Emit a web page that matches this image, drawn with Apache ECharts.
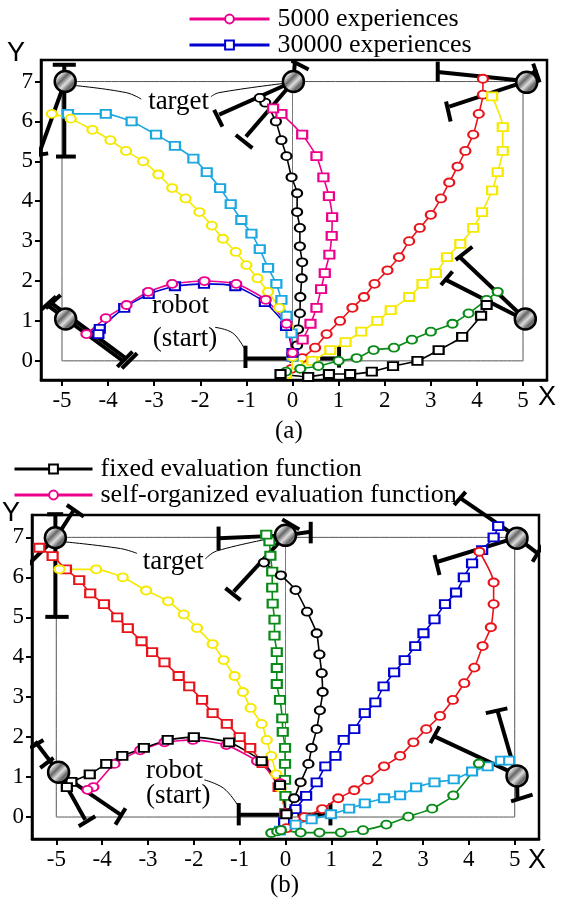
<!DOCTYPE html>
<html>
<head>
<meta charset="utf-8">
<script src="https://cdn.jsdelivr.net/npm/echarts@6/dist/echarts.min.js"></script>
<style>
  html, body { margin: 0; padding: 0; background: #fff; }
  #chart { width: 567px; height: 900px; }
</style>
</head>
<body>
<div id="chart"></div>
<script>
// tick values shared by both panels
const xTicks = [-5, -4, -3, -2, -1, 0, 1, 2, 3, 4, 5];
const yTicks = [0, 1, 2, 3, 4, 5, 6, 7];

// ---- panel (a) trajectories ----
const aPinkCirc = [[0.0,0.2],[-0.13,0.93],[-0.58,1.53],[-1.22,1.93],[-1.91,2.0],[-2.61,1.93],[-3.13,1.73],[-3.6,1.4],[-4.05,1.07],[-4.47,0.67]];
const aBlueSq = [[0.0,0.2],[-0.14,0.87],[-0.6,1.47],[-1.24,1.87],[-1.92,1.93],[-2.55,1.87],[-3.12,1.67],[-3.65,1.33],[-4.18,0.8],[-4.21,0.67]];
const aBlackCirc = [[0.02,0.05],[0.10,0.39],[0.12,0.79],[0.16,1.19],[0.17,1.6],[0.20,2.07],[0.21,2.47],[0.16,2.87],[0.16,3.33],[0.10,3.73],[0.10,4.2],[-0.02,4.6],[-0.13,5.13],[-0.24,5.53],[-0.36,6.0],[-0.59,6.47],[-0.71,6.59]];
const aPinkSq = [[0.0,0.1],[0.22,0.53],[0.39,0.93],[0.52,1.33],[0.62,1.8],[0.70,2.2],[0.80,2.66],[0.85,3.13],[0.86,3.6],[0.79,4.13],[0.67,4.6],[0.52,5.13],[0.21,5.67],[-0.24,6.19],[-0.42,6.33]];
const aRedCirc = [[-0.02,-0.2],[0.21,0.07],[0.49,0.33],[0.74,0.67],[1.03,1.0],[1.30,1.33],[1.55,1.6],[1.78,1.93],[2.06,2.27],[2.31,2.6],[2.53,3.0],[2.76,3.33],[3.0,3.66],[3.22,4.07],[3.40,4.47],[3.58,4.87],[3.75,5.26],[3.92,5.67],[4.04,6.19],[4.13,6.67],[4.13,7.07]];
const aYellowSq = [[-0.14,-0.33],[0.1,-0.1],[0.43,0.0],[0.82,0.27],[1.15,0.47],[1.49,0.73],[1.84,1.0],[2.13,1.27],[2.53,1.6],[2.82,1.93],[3.11,2.2],[3.35,2.6],[3.64,2.93],[3.92,3.33],[4.11,3.73],[4.33,4.27],[4.45,4.73],[4.56,5.26],[4.56,5.86],[4.33,6.63]];
const aGreenCirc = [[-0.14,-0.27],[0.17,-0.2],[0.56,-0.13],[1.0,0.0],[1.39,0.07],[1.76,0.27],[2.2,0.33],[2.59,0.53],[3.0,0.73],[3.47,0.93],[3.82,1.19],[4.21,1.53],[4.45,1.73]];
const aBlackSq = [[-0.26,-0.33],[0.34,-0.4],[0.79,-0.33],[1.25,-0.33],[1.72,-0.27],[2.18,-0.13],[2.71,0.0],[3.17,0.27],[3.68,0.6],[4.09,1.13],[4.21,1.4]];
const aCyanSq = [[0.0,0.1],[-0.02,0.69],[-0.13,1.13],[-0.24,1.53],[-0.35,1.93],[-0.53,2.33],[-0.71,2.8],[-0.89,3.19],[-1.11,3.53],[-1.34,3.93],[-1.57,4.33],[-1.86,4.73],[-2.15,5.07],[-2.55,5.39],[-2.96,5.67],[-3.49,6.0],[-4.05,6.19],[-4.87,6.19]];
const aYellowCirc = [[0.0,0.1],[-0.10,0.86],[-0.29,1.33],[-0.53,1.73],[-0.76,2.07],[-1.0,2.4],[-1.23,2.73],[-1.51,3.06],[-1.75,3.39],[-2.02,3.73],[-2.32,4.07],[-2.61,4.33],[-2.91,4.67],[-3.24,5.0],[-3.61,5.26],[-3.95,5.53],[-4.34,5.79],[-4.81,6.07],[-5.22,6.19]];

// ---- panel (b) trajectories ----
const bBlackSq = [[0.02,0.07],[-0.12,0.8],[-0.52,1.4],[-1.23,1.87],[-2.0,2.0],[-2.57,1.93],[-3.09,1.73],[-3.56,1.53],[-3.91,1.33],[-4.27,1.07],[-4.67,0.88],[-4.77,0.75]];
const bPinkCirc = [[0.0,0.1],[-0.12,0.85],[-0.62,1.4],[-1.29,1.8],[-2.02,1.93],[-2.64,1.87],[-3.17,1.67],[-3.73,1.33],[-4.19,0.75],[-4.32,0.68]];
const bRedSq = [[0.0,0.1],[-0.15,0.75],[-0.5,1.35],[-0.77,1.73],[-1.0,2.0],[-1.28,2.33],[-1.59,2.6],[-1.82,2.93],[-2.1,3.27],[-2.33,3.53],[-2.64,3.87],[-2.91,4.13],[-3.14,4.4],[-3.44,4.73],[-3.67,5.0],[-3.96,5.33],[-4.26,5.6],[-4.5,5.93],[-4.79,6.2],[-5.08,6.53],[-5.37,6.74]];
const bYellowCirc = [[0.0,0.1],[-0.11,0.73],[-0.2,1.07],[-0.31,1.53],[-0.41,1.93],[-0.52,2.33],[-0.76,2.73],[-0.93,3.13],[-1.11,3.53],[-1.35,3.93],[-1.59,4.33],[-1.93,4.73],[-2.22,5.07],[-2.56,5.4],[-3.04,5.67],[-3.55,6.0],[-4.13,6.2],[-4.93,6.2]];
const bGreenSq = [[0.0,0.1],[0.0,0.53],[-0.01,0.93],[-0.01,1.33],[-0.01,1.73],[-0.06,2.13],[-0.07,2.47],[-0.12,2.93],[-0.19,3.33],[-0.19,3.73],[-0.19,4.13],[-0.24,4.54],[-0.24,4.94],[-0.28,5.34],[-0.29,5.74],[-0.29,6.14],[-0.33,6.54],[-0.35,6.9],[-0.42,7.07]];
const bBlackCirc = [[0.04,0.1],[0.19,0.47],[0.33,0.87],[0.5,1.33],[0.57,1.73],[0.68,2.2],[0.75,2.67],[0.81,3.13],[0.79,3.6],[0.74,4.07],[0.68,4.6],[0.47,5.14],[0.22,5.68],[-0.1,6.05],[-0.47,6.37]];
const bBlueSq = [[-0.03,-0.13],[0.22,0.2],[0.45,0.53],[0.68,0.87],[0.87,1.27],[1.09,1.53],[1.27,1.93],[1.5,2.2],[1.73,2.6],[1.96,2.87],[2.14,3.27],[2.37,3.62],[2.6,3.93],[2.83,4.28],[3.01,4.6],[3.25,4.95],[3.48,5.33],[3.72,5.62],[3.89,6.0],[4.07,6.35],[4.29,6.68],[4.54,7.0],[4.64,7.28]];
const bRedCirc = [[0.02,-0.28],[0.41,0.0],[0.8,0.2],[1.15,0.47],[1.5,0.67],[1.79,0.93],[2.15,1.27],[2.5,1.53],[2.79,1.87],[3.07,2.2],[3.37,2.53],[3.65,2.93],[3.9,3.35],[4.12,3.74],[4.3,4.28],[4.48,4.75],[4.54,5.33],[4.54,5.87],[4.23,6.64]];
const bCyanSq = [[-0.12,-0.34],[0.22,-0.19],[0.57,-0.06],[0.99,0.07],[1.39,0.21],[1.73,0.34],[2.15,0.47],[2.5,0.54],[2.85,0.74],[3.25,0.87],[3.67,0.94],[4.07,1.14],[4.41,1.27],[4.7,1.41],[4.88,1.41]];
const bGreenCirc = [[-0.31,-0.4],[-0.18,-0.36],[-0.1,-0.33],[0.33,-0.39],[0.74,-0.39],[1.21,-0.39],[1.69,-0.33],[2.2,-0.19],[2.68,0.01],[3.2,0.21],[3.66,0.54],[4.22,1.34]];

// workspace outline and centre line
const workspace = [[-5,0],[5,0],[5,7],[-5,7],[-5,0]];
const midLine = [[0,0],[0,7]];

// target positions
const targetsA = [[-4.93,7.0],[0.02,7.0],[5.08,6.98],[5.05,1.05],[-4.92,1.05]];
const targetsB = [[-5.02,6.99],[0.0,7.05],[5.05,6.98],[5.05,1.03],[-4.95,1.12]];

// robot arm sketches (links and end bars)
const armsA = [
  [[0,0.06],[-1.02,0.06]], [[-1.02,0.38],[-1.02,-0.18]],
  [[0.6,0.06],[1.01,0.06]], [[1.01,0.37],[1.01,-0.17]],
  [[-4.95,7.42],[-4.95,5.12]], [[-5.2,7.42],[-4.7,7.42]], [[-5.13,5.12],[-4.7,5.12]],
  [[-4.95,6.95],[-5.5,5.18]], [[-5.68,5.13],[-5.3,5.2]],
  [[0.02,7.0],[-1.59,6.17]], [[-1.7,6.29],[-1.52,5.87]],
  [[0.02,7.0],[-1.01,5.62]], [[-1.23,5.66],[-0.87,5.33]],
  [[0.02,7.0],[0.05,7.48]], [[-0.02,7.52],[0.35,7.3]],
  [[5.0,7.02],[3.15,7.24]], [[3.15,7.5],[3.15,7.0]],
  [[5.0,6.98],[3.4,6.37]], [[3.33,6.5],[3.43,6.0]],
  [[5.1,7.1],[5.3,7.3]], [[5.22,7.45],[5.36,6.98]],
  [[5.0,1.1],[3.62,2.61]], [[3.54,2.53],[3.9,2.86]],
  [[5.0,1.05],[3.33,2.03]], [[3.22,1.9],[3.47,2.24]],
  [[-5.28,1.49],[-3.62,0.07]], [[-5.33,1.41],[-3.67,-0.01]],
  [[-3.8,-0.15],[-3.47,0.23]], [[-3.7,-0.19],[-3.37,0.19]],
  [[-5.35,1.32],[-5.03,1.65]], [[-5.45,1.28],[-5.13,1.61]]
];
const armsB = [
  [[-0.02,0.06],[-1.02,0.06]], [[-1.02,0.35],[-1.02,-0.21]],
  [[0.26,0.06],[0.92,0.06]], [[0.98,0.35],[0.98,-0.21]],
  [[-5.02,7.58],[-5.02,5.01]], [[-5.2,7.58],[-4.85,7.58]], [[-5.24,5.01],[-4.73,5.01]],
  [[-5.0,7.0],[-4.62,7.68]], [[-4.77,7.81],[-4.4,7.52]],
  [[-5.02,6.99],[-6.05,5.82]], [[-6.22,6.02],[-5.93,5.6]],
  [[0.0,7.05],[-1.46,6.98]], [[-1.46,7.27],[-1.46,6.68]],
  [[0.0,7.05],[-1.13,5.64]], [[-1.31,5.73],[-0.98,5.43]],
  [[0.0,7.05],[0.55,7.14]], [[0.55,7.39],[0.55,6.85]],
  [[-0.07,7.45],[0.3,7.2]],
  [[5.0,7.05],[3.83,7.97]], [[3.68,7.81],[3.93,8.14]],
  [[5.0,6.98],[3.32,6.39]], [[3.25,6.56],[3.36,6.06]],
  [[5.1,6.95],[5.5,6.6]], [[5.39,6.39],[5.61,6.81]],
  [[5.0,1.08],[3.25,2.02]], [[3.16,1.85],[3.36,2.27]],
  [[5.02,1.1],[4.63,2.64]], [[4.37,2.6],[4.84,2.72]],
  [[5.05,0.98],[5.06,0.47]], [[4.92,0.39],[5.39,0.56]],
  [[-4.95,1.12],[-5.46,1.89]], [[-5.57,1.73],[-5.28,1.93]], [[-5.35,1.23],[-5.06,1.48]],
  [[-4.95,1.12],[-3.6,0.06]], [[-3.71,-0.19],[-3.49,0.22]],
  [[-4.95,1.12],[-4.37,-0.07]], [[-4.51,-0.23],[-4.15,0.02]]
];

// thin leader lines from labels
const leadA = [
  [[-4.72,6.9],[-3.6,6.72],[-3.28,6.56]],
  [[-1.77,6.62],[-1.6,6.72],[-0.14,6.96]],
  [[-1.68,0.84],[-1.3,0.7],[-1.05,0.32]]
];
const leadB = [
  [[-4.84,6.89],[-3.6,6.72],[-3.24,6.6]],
  [[-1.75,6.46],[-1.5,6.66],[-0.15,7.01]],
  [[-1.77,0.93],[-1.35,0.72],[-1.05,0.31]]
];

const labelsA = [['target', [-2.47,6.5]], ['robot', [-2.43,1.38]], ['(start)', [-2.33,0.55]]];
const labelsB = [['target', [-2.45,6.38]], ['robot', [-2.42,1.16]], ['(start)', [-2.34,0.53]]];

const SERIF = "'Liberation Serif', 'Times New Roman', serif";
const SANS = "'Liberation Sans', Arial, sans-serif";

const chart = echarts.init(document.getElementById('chart'));

function traj(name, data, color, sym, gi) {
  return {
    type: 'line', name: name, data: data,
    xAxisIndex: gi, yAxisIndex: gi,
    smooth: 0.2,
    symbol: sym, symbolSize: [10, 8], showAllSymbol: true,
    lineStyle: { color: color, width: 1.6 },
    itemStyle: { color: color, borderWidth: 1.4 },
    z: 4, silent: true
  };
}

function plain(data, gi, width, color, z) {
  return {
    type: 'line', data: data, xAxisIndex: gi, yAxisIndex: gi,
    symbol: 'none', smooth: width < 2 ? 0.4 : false, clip: false,
    lineStyle: { color: color, width: width, cap: 'butt' },
    z: z, silent: true
  };
}

function targetSeries(data, gi) {
  return {
    type: 'scatter', data: data, xAxisIndex: gi, yAxisIndex: gi,
    symbol: 'circle', symbolSize: 21, clip: false,
    itemStyle: {
      opacity: 1,
      color: new echarts.graphic.LinearGradient(0, 0, 1, 1, [
        { offset: 0, color: '#666' }, { offset: 0.25, color: '#ddd' },
        { offset: 0.4, color: '#666' }, { offset: 0.55, color: '#ddd' },
        { offset: 0.7, color: '#666' }, { offset: 1, color: '#bbb' }
      ]),
      borderColor: '#000', borderWidth: 2.5
    },
    z: 6, silent: true
  };
}

function textSeries(list, gi) {
  return {
    type: 'scatter', xAxisIndex: gi, yAxisIndex: gi,
    data: list.map(d => ({ value: d[1], name: d[0] })),
    symbolSize: 0,
    itemStyle: { opacity: 1 },
    label: {
      show: true, position: 'inside', formatter: '{b}',
      fontFamily: SERIF, fontSize: 27, color: '#000',
      textBorderWidth: 0, textBorderColor: 'transparent'
    },
    z: 7, silent: true
  };
}

function axisX(gi, min, max) {
  return {
    type: 'value', gridIndex: gi, min: min, max: max,
    axisLine: { show: true, onZero: false, lineStyle: { color: '#000', width: 2.5 } },
    axisTick: { show: true, customValues: xTicks, length: 6, lineStyle: { color: '#000', width: 2 } },
    axisLabel: { customValues: xTicks, fontFamily: SERIF, fontSize: 23, color: '#000', margin: 9 },
    splitLine: { show: false }
  };
}

function axisY(gi, min, max) {
  return {
    type: 'value', gridIndex: gi, min: min, max: max,
    axisLine: { show: true, onZero: false, lineStyle: { color: '#000', width: 2.5 } },
    axisTick: { show: true, customValues: yTicks, length: 6, lineStyle: { color: '#000', width: 2 } },
    axisLabel: { customValues: yTicks, fontFamily: SERIF, fontSize: 23, color: '#000', margin: 8 },
    splitLine: { show: false }
  };
}

const series = [];
// workspace frames
[0, 1].forEach(gi => {
  series.push(plain(workspace, gi, 1, '#555', 1));
  series.push(plain(midLine, gi, 1, '#777', 1));
});
// arms
armsA.forEach(s => series.push(plain(s, 0, 4, '#000', 3)));
armsB.forEach(s => series.push(plain(s, 1, 4, '#000', 3)));
leadA.forEach(s => series.push(plain(s, 0, 1, '#000', 3)));
leadB.forEach(s => series.push(plain(s, 1, 1, '#000', 3)));

// panel (a)
series.push(traj('a-black-circ', aBlackCirc, '#000', 'emptyCircle', 0));
series.push(traj('a-pink-sq', aPinkSq, '#ec008c', 'emptyRect', 0));
series.push(traj('a-red-circ', aRedCirc, '#e8141b', 'emptyCircle', 0));
series.push(traj('a-yellow-sq', aYellowSq, '#f5e900', 'emptyRect', 0));
series.push(traj('a-green-circ', aGreenCirc, '#0a8a18', 'emptyCircle', 0));
series.push(traj('a-black-sq', aBlackSq, '#000', 'emptyRect', 0));
series.push(traj('a-cyan-sq', aCyanSq, '#1ba7e0', 'emptyRect', 0));
series.push(traj('a-yellow-circ', aYellowCirc, '#f5e900', 'emptyCircle', 0));
series.push(traj('30000 experiences', aBlueSq, '#0000d0', 'emptyRect', 0));
series.push(traj('5000 experiences', aPinkCirc, '#ec008c', 'emptyCircle', 0));

// panel (b)
series.push(traj('b-red-sq', bRedSq, '#e8141b', 'emptyRect', 1));
series.push(traj('b-yellow-circ', bYellowCirc, '#f5e900', 'emptyCircle', 1));
series.push(traj('b-green-sq', bGreenSq, '#0a8a18', 'emptyRect', 1));
series.push(traj('b-black-circ', bBlackCirc, '#000', 'emptyCircle', 1));
series.push(traj('b-blue-sq', bBlueSq, '#0000d0', 'emptyRect', 1));
series.push(traj('b-red-circ', bRedCirc, '#e8141b', 'emptyCircle', 1));
series.push(traj('b-cyan-sq', bCyanSq, '#1ba7e0', 'emptyRect', 1));
series.push(traj('b-green-circ', bGreenCirc, '#0a8a18', 'emptyCircle', 1));
series.push(traj('self-organized evaluation function', bPinkCirc, '#ec008c', 'emptyCircle', 1));
series.push(traj('fixed evaluation function', bBlackSq, '#000', 'emptyRect', 1));

series.push(targetSeries(targetsA, 0));
series.push(targetSeries(targetsB, 1));
series.push(textSeries(labelsA, 0));
series.push(textSeries(labelsB, 1));

const legendBase = {
  orient: 'vertical', padding: 0, itemHeight: 11, itemGap: 0,
  lineStyle: { width: 3 },
  textStyle: { fontFamily: SERIF, fontSize: 26, color: '#000', lineHeight: 25, padding: [0, 0, 0, 3] },
  selectedMode: false
};

chart.setOption({
  animation: false,
  backgroundColor: '#fff',
  legend: [
    Object.assign({}, legendBase, { left: 188, top: 6, itemWidth: 80, data: ['5000 experiences', '30000 experiences'] }),
    Object.assign({}, legendBase, { left: 13, top: 456, itemWidth: 78, data: ['fixed evaluation function', 'self-organized evaluation function'] })
  ],
  grid: [
    { left: 41, top: 60, width: 506, height: 320, show: true, borderColor: '#000', borderWidth: 2.5 },
    { left: 32, top: 515, width: 507, height: 324, show: true, borderColor: '#000', borderWidth: 2.5 }
  ],
  xAxis: [axisX(0, -5.455, 5.52), axisX(1, -5.53, 5.53)],
  yAxis: [axisY(0, -0.48, 7.54), axisY(1, -0.55, 7.56)],
  graphic: [
    { type: 'text', left: 7, top: 40, style: { text: 'Y', font: '27px ' + SANS, fill: '#000' } },
    { type: 'text', left: 538, top: 384, style: { text: 'X', font: '27px ' + SANS, fill: '#000' } },
    { type: 'text', left: 275, top: 419, style: { text: '(a)', font: '25px ' + SERIF, fill: '#000' } },
    { type: 'text', left: 2, top: 500, style: { text: 'Y', font: '27px ' + SANS, fill: '#000' } },
    { type: 'text', left: 528, top: 847, style: { text: 'X', font: '27px ' + SANS, fill: '#000' } },
    { type: 'text', left: 270, top: 873, style: { text: '(b)', font: '25px ' + SERIF, fill: '#000' } }
  ],
  series: series
});
</script>
</body>
</html>
